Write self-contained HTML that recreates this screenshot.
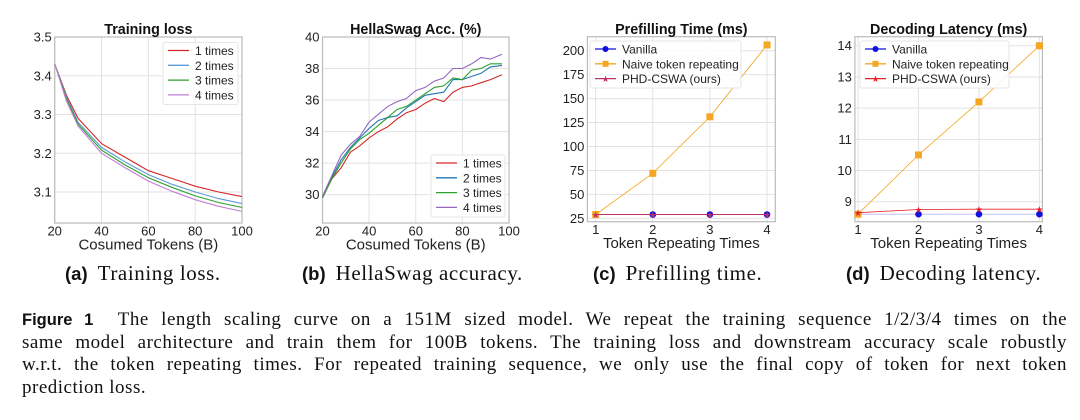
<!DOCTYPE html>
<html><head><meta charset="utf-8"><style>
body{margin:0;background:#fff;width:1080px;height:420px;overflow:hidden}
svg{position:absolute;left:0;top:0}
.cap{position:absolute;left:22px;width:1045px;font-family:"Liberation Serif",serif;font-size:19px;letter-spacing:0.5px;color:#111;top:309px}
.cap div{height:22.5px;line-height:22.5px;text-align:justify;text-align-last:justify;white-space:nowrap;overflow:visible}
.cap div.last{text-align-last:left}
.cap b{font-family:"Liberation Sans",sans-serif;font-size:16.5px;letter-spacing:0}
</style></head><body>
<svg id="fig" width="1080" height="300"></svg>
<div class="cap">
<div><b>Figure 1</b>&nbsp; The length scaling curve on a 151M sized model. We repeat the training sequence 1/2/3/4 times on the</div>
<div>same model architecture and train them for 100B tokens. The training loss and downstream accuracy scale robustly</div>
<div>w.r.t. the token repeating times. For repeated training sequence, we only use the final copy of token for next token</div>
<div class="last">prediction loss.</div>
</div>
<script>
const lossX=[20,25,30,40,50,60,70,80,90,100];
const loss1=[3.43,3.35,3.29,3.225,3.19,3.155,3.135,3.115,3.10,3.088];
const loss2=[3.43,3.345,3.28,3.215,3.178,3.145,3.12,3.10,3.083,3.07];
const loss3=[3.43,3.34,3.275,3.208,3.17,3.137,3.112,3.09,3.073,3.06];
const loss4=[3.43,3.335,3.27,3.20,3.163,3.128,3.102,3.08,3.063,3.05];
const hsX=[20,24,28,32,36,40,44,48,52,56,60,64,68,72,76,80,84,88,92,97];
const hs1=[29.8,31.0,31.7,32.7,33.1,33.6,34.0,34.3,34.8,35.2,35.4,35.8,36.1,35.9,36.5,36.8,36.9,37.1,37.3,37.6];
const hs2=[29.8,31.1,32.2,33.0,33.6,34.2,34.7,34.9,35.0,35.5,35.9,36.3,36.4,36.5,37.3,37.3,37.5,37.7,38.1,38.2];
const hs3=[29.8,31.0,32.0,32.9,33.5,33.9,34.4,34.9,35.4,35.6,36.0,36.4,36.8,36.9,37.4,37.3,37.9,38.0,38.3,38.3];
const hs4=[29.9,31.2,32.5,33.2,33.7,34.6,35.1,35.6,35.9,36.1,36.6,36.8,37.2,37.4,38.0,38.0,38.3,38.7,38.6,38.9];
const repX=[1,2,3,4];
const preVanilla=[29,29,29,29];
const preNaive=[29,72,131,206];
const prePhd=[29,29,29,29];
const decVanilla=[8.6,8.6,8.6,8.6];
const decNaive=[8.6,10.5,12.2,14.0];
const decPhd=[8.65,8.75,8.76,8.76];
const lossTicks=[3.1,3.2,3.3,3.4,3.5];
const hsTicks=[30,32,34,36,38,40];
const tokTicks=[20,40,60,80,100];
const preTicks=[25,50,75,100,125,150,175,200];
const decTicks=[9,10,11,12,13,14];

const NS="http://www.w3.org/2000/svg";
const svg=document.getElementById('fig');
function mk(tag,attrs,parent,text){const e=document.createElementNS(NS,tag);for(const k in attrs)e.setAttribute(k,attrs[k]);if(text!==undefined)e.textContent=text;(parent||svg).appendChild(e);return e;}
const SANS='"Liberation Sans","DejaVu Sans",sans-serif';

function panel(o){
  const g=mk('g',{});
  
  
  const sx=v=>o.L+(v-o.x0)/(o.x1-o.x0)*(o.R-o.L);
  const sy=v=>o.B-(v-o.y0)/(o.y1-o.y0)*(o.B-o.T);
  o.xt.forEach(t=>{
    const l=mk('line',{x1:sx(t),x2:sx(t),y1:o.T,y2:o.B,stroke:'#e2e2e2','stroke-width':1},g);
    
    const tx=mk('text',{x:sx(t),y:o.B+12.5,'font-size':13,'font-family':SANS,fill:'#222','text-anchor':'middle'},g,t);
    
  });
  o.yt.forEach(t=>{
    const l=mk('line',{x1:o.L,x2:o.R,y1:sy(t),y2:sy(t),stroke:'#e2e2e2','stroke-width':1},g);
    
    const tx=mk('text',{x:o.L-3,y:sy(t)+4.5,'font-size':13,'font-family':SANS,fill:'#222','text-anchor':'end'},g,t);
    
  });
  const fr=mk('rect',{x:o.L,y:o.T,width:o.R-o.L,height:o.B-o.T,fill:'none',stroke:'#bbb','stroke-width':1.2},g);
  
  const ti=mk('text',{x:(o.L+o.R)/2,y:34,'font-size':14.3,'font-weight':'bold','font-family':SANS,fill:'#111','text-anchor':'middle'},g,o.title);
  
  const xl=mk('text',{x:(o.L+o.R)/2,y:o.B+26.5,'font-size':15,'font-family':SANS,fill:'#222','text-anchor':'middle'},g,o.xlabel);
  
  o.series.forEach(s=>{
    const pts=s.ys.map((y,i)=>sx(s.xs[i]).toFixed(1)+','+sy(y).toFixed(1)).join(' ');
    const p=mk('polyline',{points:pts,fill:'none',stroke:s.c,'stroke-width':s.w||1.1,'stroke-opacity':s.op||1},g);
    
    if(s.m){s.ys.forEach((y,i)=>{
      const cx=sx(s.xs[i]),cy=sy(y);let m;
      if(s.m==='o')m=mk('circle',{cx:cx,cy:cy,r:3.3,fill:s.c},g);
      else if(s.m==='s')m=mk('rect',{x:cx-3.5,y:cy-3.5,width:7,height:7,fill:s.c},g);
      else m=mk('text',{x:cx,y:cy+3.5,'font-size':9,fill:s.c,'text-anchor':'middle'},g,'★');
      
    });}
  });
  const lg=o.legend;
  const lb=mk('rect',{x:lg.x,y:lg.y,width:lg.w,height:lg.h,fill:'#fff','fill-opacity':0.85,stroke:'#e6e6e6',rx:2},g);
  
  o.series.forEach((s,i)=>{
    const yy=lg.y+8+i*14.8;
    const eg=mk('g',{},g);
    
    mk('line',{x1:lg.x+5,x2:lg.x+26,y1:yy,y2:yy,stroke:s.c,'stroke-width':1.3},eg);
    if(s.m==='o')mk('circle',{cx:lg.x+15.5,cy:yy,r:3,fill:s.c},eg);
    if(s.m==='s')mk('rect',{x:lg.x+12.5,y:yy-3,width:6,height:6,fill:s.c},eg);
    if(s.m==='*')mk('text',{x:lg.x+15.5,y:yy+3.5,'font-size':9,fill:s.c,'text-anchor':'middle'},eg,'★');
    mk('text',{x:lg.x+32,y:yy+4.5,'font-size':12,'font-family':SANS,fill:'#222'},eg,s.label);
  });
}
const C1='#d62728',C2='#1f77b4',C3='#2ca02c',C4='#9467bd';
panel({name:'training-loss-chart',title:'Training loss',xlabel:'Cosumed Tokens (B)',L:54.7,R:242,T:37,B:223,x0:20,x1:100,y0:3.02,y1:3.5,xt:tokTicks,yt:lossTicks,
 legend:{x:163,y:42.5,w:75,h:62},
 series:[{id:'1-times',label:'1 times',xs:lossX,ys:loss1,c:C1},{id:'2-times',label:'2 times',xs:lossX,ys:loss2,c:'#5b9bd5'},{id:'3-times',label:'3 times',xs:lossX,ys:loss3,c:C3},{id:'4-times',label:'4 times',xs:lossX,ys:loss4,c:'#c17fd6'}]});
panel({name:'hellaswag-chart',title:'HellaSwag Acc. (%)',xlabel:'Cosumed Tokens (B)',L:322.5,R:509,T:37,B:223,x0:20,x1:100,y0:28.2,y1:40,xt:tokTicks,yt:hsTicks,
 legend:{x:431,y:155,w:74,h:62},
 series:[{id:'1-times',label:'1 times',xs:hsX,ys:hs1,c:C1},{id:'2-times',label:'2 times',xs:hsX,ys:hs2,c:C2},{id:'3-times',label:'3 times',xs:hsX,ys:hs3,c:C3},{id:'4-times',label:'4 times',xs:hsX,ys:hs4,c:C4}]});
panel({name:'prefilling-time-chart',title:'Prefilling Time (ms)',xlabel:'Token Repeating Times',L:587.4,R:775.3,T:36.7,B:221.7,x0:0.855,x1:4.145,y0:21.5,y1:214.6,xt:repX,yt:preTicks,
 legend:{x:590,y:41,w:151,h:47},
 series:[{id:'vanilla',label:'Vanilla',xs:repX,ys:preVanilla,c:'#1010e0',m:'o'},{id:'naive',label:'Naive token repeating',xs:repX,ys:preNaive,c:'#f5a623',m:'s',w:0.8},{id:'phd-cswa',label:'PHD-CSWA (ours)',xs:repX,ys:prePhd,c:'#c0306a',m:'*'}]});
panel({name:'decoding-latency-chart',title:'Decoding Latency (ms)',xlabel:'Token Repeating Times',L:854.9,R:1042.4,T:36.7,B:221.7,x0:0.948,x1:4.05,y0:8.36,y1:14.29,xt:repX,yt:decTicks,
 legend:{x:860,y:41,w:149,h:47},
 series:[{id:'vanilla',label:'Vanilla',xs:repX,ys:decVanilla,c:'#1010e0',m:'o',w:0.8,op:0.3},{id:'naive',label:'Naive token repeating',xs:repX,ys:decNaive,c:'#f5a623',m:'s',w:0.8},{id:'phd-cswa',label:'PHD-CSWA (ours)',xs:repX,ys:decPhd,c:'#e8202a',m:'*',w:0.8}]});
const subs=[[65,'(a)','Training loss.'],[302,'(b)','HellaSwag accuracy.'],[593,'(c)','Prefilling time.'],[846,'(d)','Decoding latency.']];
subs.forEach(s=>{
  const t=mk('text',{x:s[0],y:280,'font-size':21,fill:'#111'});
  
  mk('tspan',{'font-family':SANS,'font-weight':'bold','font-size':18.5},t,s[1]);
  mk('tspan',{'font-family':'"Liberation Serif",serif',dx:10,'letter-spacing':0.6},t,s[2]);
});
</script>
</body></html>
